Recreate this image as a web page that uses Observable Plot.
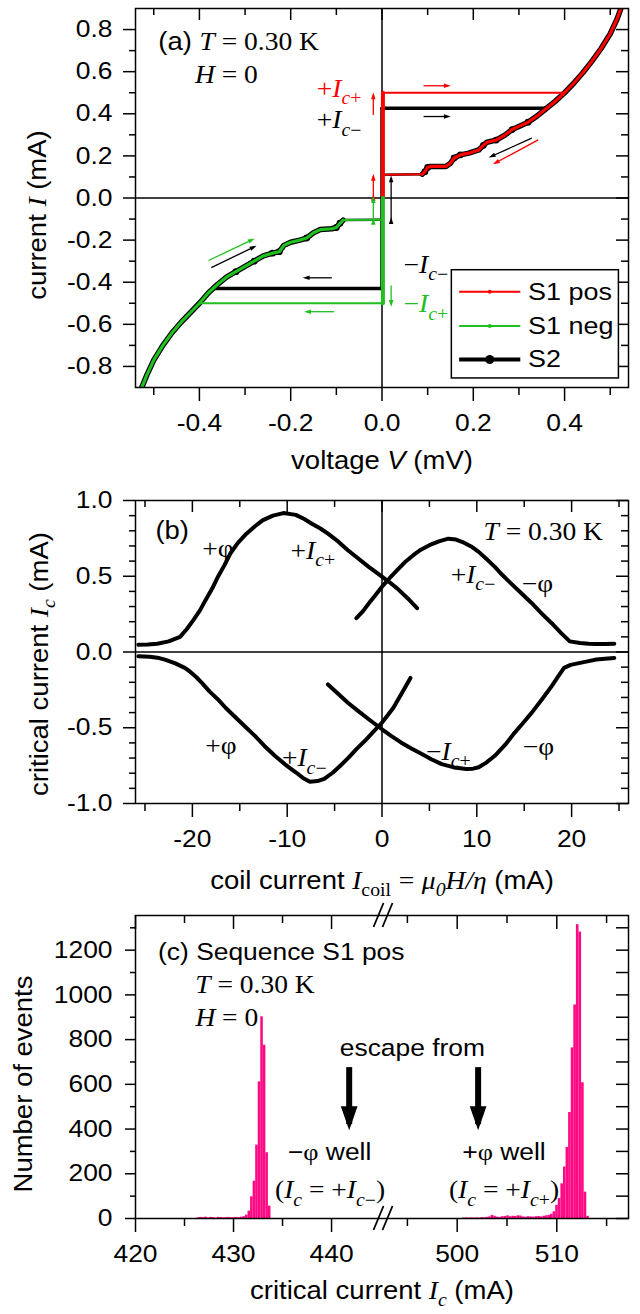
<!DOCTYPE html>
<html><head><meta charset="utf-8">
<script src="https://cdn.jsdelivr.net/npm/d3@7"></script>
<script src="https://cdn.jsdelivr.net/npm/@observablehq/plot@0.6"></script>
<style>
body{margin:0;background:#fff;}
#chart{width:640px;}
#chart svg{display:block;}
</style></head><body><div id="chart"></div>
<script>
const SANS = "'Liberation Sans', Arial, Helvetica, sans-serif";
const SERIF = "'Liberation Serif', 'Times New Roman', serif";
const RED = "#ff0000", GREEN = "#20c020", PINK = "#ff0a84", BLACK = "#000";

// ---------------- Panel (a) data: I-V curves ----------------
const posBranchV = [0.088, 0.094, 0.1, 0.106, 0.14, 0.15, 0.158, 0.172, 0.19, 0.212, 0.222, 0.23, 0.25, 0.27, 0.285, 0.3, 0.32, 0.34, 0.36, 0.38, 0.4, 0.42, 0.44, 0.46, 0.48, 0.5, 0.515, 0.53];
const posBranchI = [0.113, 0.125, 0.145, 0.15, 0.15, 0.165, 0.19, 0.205, 0.213, 0.228, 0.25, 0.265, 0.275, 0.3, 0.325, 0.34, 0.36, 0.39, 0.425, 0.46, 0.5, 0.545, 0.595, 0.65, 0.71, 0.78, 0.85, 0.94];
const negBranchV = [-0.085, -0.092, -0.1, -0.11, -0.135, -0.15, -0.165, -0.18, -0.2, -0.215, -0.225, -0.24, -0.26, -0.28, -0.3, -0.32, -0.34, -0.36, -0.38, -0.4, -0.42, -0.44, -0.46, -0.48, -0.5, -0.515, -0.53];
const negBranchI = [-0.105, -0.12, -0.14, -0.146, -0.15, -0.165, -0.19, -0.2, -0.21, -0.225, -0.255, -0.262, -0.275, -0.3, -0.325, -0.35, -0.375, -0.41, -0.45, -0.5, -0.545, -0.59, -0.64, -0.7, -0.77, -0.84, -0.92];
const s1SwitchI = [0.5, -0.5];      // +Ic+, -Ic+
const s1SwitchV = [0.4, -0.4];
const s2SwitchI = [0.426, -0.43];   // +Ic-, -Ic-
const s2SwitchV = [0.36, -0.37];
const retrapV = [0.004, -0.004];
const retrapI = [0.11, -0.103];
const zeroOffsetV = [0.002, 0.002];
const s2DotIdxPos = [1, 2, 6, 7, 10, 12, 14, 16];
const s2DotIdxNeg = [1, 2, 6, 10, 11, 13, 15];
const aXMajor = [-0.4, -0.2, 0, 0.2, 0.4], aXMinor = [-0.5, -0.3, -0.1, 0.1, 0.3, 0.5];
const aYMajor = [-0.8, -0.6, -0.4, -0.2, 0, 0.2, 0.4, 0.6, 0.8], aYMinor = [-0.7, -0.5, -0.3, -0.1, 0.1, 0.3, 0.5, 0.7];
const legendLabels = ["S1 pos", "S1 neg", "S2"];
const legendRowI = [-0.445, -0.608, -0.767];
const legendLineV = [0.169, 0.303], legendTextV = 0.32;
const legendBox = {x1: 0.153, x2: 0.519, y1: -0.343, y2: -0.857};
const aLabels = [
  {x: -0.49, y: 0.742, t: "{n:(a) }{i:T} = 0.30 K", anchor: "start", color: BLACK},
  {x: -0.41, y: 0.584, t: "{i:H} = 0", anchor: "start", color: BLACK},
  {x: -0.045, y: 0.52, t: "+{i:I}{ib:c}{b:+}", anchor: "end", color: RED},
  {x: -0.045, y: 0.37, t: "+{i:I}{ib:c}{b:−}", anchor: "end", color: BLACK},
  {x: 0.047, y: -0.316, t: "−{i:I}{ib:c}{b:−}", anchor: "start", color: BLACK},
  {x: 0.047, y: -0.505, t: "−{i:I}{ib:c}{b:+}", anchor: "start", color: GREEN}
];
const aArrows = [
  {x1: 0.091, y1: 0.533, x2: 0.145, y2: 0.533, c: RED},
  {x1: 0.091, y1: 0.387, x2: 0.145, y2: 0.387, c: BLACK},
  {x1: 0.328, y1: 0.284, x2: 0.239, y2: 0.197, c: BLACK},
  {x1: 0.342, y1: 0.276, x2: 0.248, y2: 0.166, c: RED},
  {x1: -0.019, y1: 0.394, x2: -0.019, y2: 0.489, c: RED},
  {x1: 0.02, y1: -0.415, x2: 0.02, y2: -0.505, c: GREEN},
  {x1: -0.11, y1: -0.379, x2: -0.168, y2: -0.379, c: BLACK},
  {x1: -0.105, y1: -0.54, x2: -0.165, y2: -0.54, c: GREEN},
  {x1: -0.38, y1: -0.297, x2: -0.284, y2: -0.198, c: GREEN},
  {x1: -0.374, y1: -0.331, x2: -0.28, y2: -0.232, c: BLACK}
];
const aDoubleArrows = [
  {x1: -0.019, y1: 0.008, x2: -0.019, y2: 0.103, c: RED},
  {x1: 0.02, y1: -0.103, x2: 0.02, y2: 0.095, c: BLACK},
  {x1: -0.019, y1: -0.106, x2: -0.019, y2: -0.003, c: GREEN}
];

// ---------------- Panel (b) data: critical current vs coil current ----------------
const upPlusX = [-25.7, -24.7, -23.7, -22.5, -21.3, -20.6, -19.9, -19.2, -18.6, -17.9, -17.3, -16.6, -16.0, -15.2, -14.3, -13.4, -12.6, -11.5, -10.4, -9.1, -8.2, -7.4, -6.5, -5.7, -4.6, -3.6, -2.5, -1.4, 0, 0.8, 1.6, 2.7, 3.7];
const upPlusY = [0.048, 0.05, 0.055, 0.07, 0.1, 0.15, 0.21, 0.275, 0.344, 0.42, 0.497, 0.575, 0.65, 0.72, 0.781, 0.83, 0.869, 0.9, 0.917, 0.905, 0.878, 0.847, 0.815, 0.781, 0.728, 0.672, 0.617, 0.562, 0.497, 0.46, 0.42, 0.355, 0.289];
const upMinusX = [-2.7, -2.0, -1.4, -0.7, 0, 0.8, 1.6, 2.4, 3.3, 4.1, 5.0, 6.0, 7.0, 7.8, 8.5, 9.4, 10.2, 11.0, 11.9, 12.7, 13.6, 14.7, 15.8, 16.8, 17.9, 18.9, 19.8, 20.9, 21.8, 22.6, 23.5, 24.5];
const upMinusY = [0.223, 0.27, 0.32, 0.375, 0.431, 0.487, 0.54, 0.592, 0.639, 0.675, 0.705, 0.73, 0.748, 0.742, 0.726, 0.697, 0.661, 0.615, 0.562, 0.508, 0.453, 0.388, 0.322, 0.257, 0.19, 0.125, 0.07, 0.059, 0.055, 0.053, 0.052, 0.055];
const loPlusX = [-25.7, -24.5, -23.5, -22.9, -21.8, -20.8, -20.3, -19.6, -19.0, -18.2, -17.3, -16.5, -15.6, -14.5, -13.4, -12.4, -11.3, -10.2, -9.1, -8.3, -7.6, -6.8, -6.1, -5.2, -4.4, -3.5, -2.7, -1.8, -1.0, 0, 0.6, 1.2, 2.1, 3.0];
const loPlusY = [-0.028, -0.032, -0.04, -0.05, -0.075, -0.105, -0.127, -0.165, -0.204, -0.26, -0.313, -0.368, -0.422, -0.488, -0.554, -0.62, -0.685, -0.743, -0.794, -0.833, -0.856, -0.852, -0.838, -0.797, -0.751, -0.696, -0.641, -0.586, -0.532, -0.466, -0.418, -0.368, -0.27, -0.171];
const loMinusX = [-5.7, -4.6, -3.6, -2.5, -1.4, 0, 1.0, 2.0, 3.1, 4.2, 5.2, 6.3, 7.6, 8.9, 9.6, 10.2, 11.0, 11.9, 13.0, 14.0, 14.9, 15.8, 16.9, 17.9, 18.6, 19.2, 19.9, 20.9, 21.8, 22.6, 23.5, 24.5];
const loMinusY = [-0.214, -0.277, -0.335, -0.39, -0.444, -0.51, -0.555, -0.597, -0.637, -0.674, -0.708, -0.74, -0.762, -0.772, -0.77, -0.761, -0.73, -0.685, -0.612, -0.532, -0.467, -0.4, -0.31, -0.225, -0.16, -0.105, -0.085, -0.072, -0.06, -0.05, -0.044, -0.039];
const bXMajor = [-20, -10, 0, 10, 20], bXMinor = [-25, -15, -5, 5, 15, 25];
const bYMajor = [-1, -0.5, 0, 0.5, 1], bYMinor = [-0.9, -0.8, -0.7, -0.6, -0.4, -0.3, -0.2, -0.1, 0.1, 0.2, 0.3, 0.4, 0.6, 0.7, 0.8, 0.9];
const bLabels = [
  {x: -23.9, y: 0.8, t: "{n:(b)}", anchor: "start", color: BLACK},
  {x: 23.3, y: 0.79, t: "{i:T} = 0.30 K", anchor: "end", color: BLACK},
  {x: -17.3, y: 0.68, t: "+φ", anchor: "middle", color: BLACK},
  {x: -7.3, y: 0.67, t: "+{i:I}{ib:c}{b:+}", anchor: "middle", color: BLACK},
  {x: 9.6, y: 0.51, t: "+{i:I}{ib:c}{b:−}", anchor: "middle", color: BLACK},
  {x: 16.4, y: 0.45, t: "−φ", anchor: "middle", color: BLACK},
  {x: -17.0, y: -0.62, t: "+φ", anchor: "middle", color: BLACK},
  {x: -8.2, y: -0.7, t: "+{i:I}{ib:c}{b:−}", anchor: "middle", color: BLACK},
  {x: 7.0, y: -0.66, t: "−{i:I}{ib:c}{b:+}", anchor: "middle", color: BLACK},
  {x: 16.5, y: -0.63, t: "−φ", anchor: "middle", color: BLACK}
];

// ---------------- Panel (c) data: histogram ----------------
const leftBinX = [426.41, 426.67, 426.93, 427.19, 427.45, 427.71, 427.97, 428.23, 428.49, 428.75, 429.01, 429.27, 429.53, 429.79, 430.05, 430.31, 430.57, 430.83, 431.09, 431.35, 431.61, 431.87, 432.13, 432.39, 432.65, 432.91, 433.17, 433.43, 433.69];
const leftBinN = [3, 5, 4, 6, 3, 5, 4, 2, 5, 4, 3, 4, 5, 3, 4, 5, 4, 6, 8, 15, 33, 97, 167, 328, 611, 902, 775, 294, 55];
const rightBinX = [500.68, 500.94, 501.2, 501.46, 501.72, 501.98, 502.24, 502.5, 502.76, 503.02, 503.28, 503.54, 503.8, 504.06, 504.32, 504.58, 504.84, 505.1, 505.36, 505.62, 505.88, 506.14, 506.4, 506.66, 506.92, 507.18, 507.44, 507.7, 507.96, 508.22, 508.48, 508.74, 509.0, 509.26, 509.5, 509.76, 510.02, 510.28, 510.54, 510.8, 511.06, 511.32, 511.58, 511.84, 512.1, 512.36, 512.62, 512.88, 513.14];
const rightBinN = [2, 3, 2, 3, 2, 3, 2, 4, 3, 5, 7, 14, 10, 6, 5, 8, 9, 12, 8, 10, 9, 12, 11, 7, 6, 8, 7, 6, 8, 9, 7, 10, 12, 14, 19, 30, 59, 89, 155, 230, 318, 474, 763, 955, 1314, 1281, 607, 118, 10];
const binWidth = 0.26;
const cXDomain = [420, 445.3, 492.6, 517.2];   // broken axis
const cXMajor = [420, 430, 440, 500, 510], cXMinor = [425, 435, 495, 505, 515];
const cYMajor = [0, 200, 400, 600, 800, 1000, 1200], cYMinor = [100, 300, 500, 700, 900, 1100, 1300];
const cLabels = [
  {x: 422.3, y: 1192, t: "(c) Sequence S1 pos", anchor: "start", color: BLACK, font: "sans"},
  {x: 426.1, y: 1043, t: "{i:T} = 0.30 K", anchor: "start", color: BLACK, font: "serif"},
  {x: 426.1, y: 896, t: "{i:H} = 0", anchor: "start", color: BLACK, font: "serif"},
  {x: 495.5, y: 762, t: "escape from", anchor: "middle", color: BLACK, font: "sans"},
  {x: 439.8, y: 297, t: "−{s:φ} well", anchor: "middle", color: BLACK, font: "sans"},
  {x: 504.7, y: 297, t: "+{s:φ} well", anchor: "middle", color: BLACK, font: "sans"},
  {x: 439.85, y: 127, t: "({i:I}{ib:c} = +{i:I}{ib:c}{b:−})", anchor: "middle", color: BLACK, font: "serif"},
  {x: 504.7, y: 127, t: "({i:I}{ib:c} = +{i:I}{ib:c}{b:+})", anchor: "middle", color: BLACK, font: "serif"}
];
const cArrows = [{x: 441.8, y1: 677, y2: 422}, {x: 502.1, y1: 677, y2: 422}];

// ---------------- helpers ----------------
const A = {w: 640, h: 480, mt: 8, mb: 93, ml: 135, mr: 12};
const B = {w: 640, h: 420, mt: 20, mb: 97, ml: 135, mr: 12};
const C = {w: 640, h: 414, mt: 15, mb: 96, ml: 135, mr: 12};
const TICK_FS = 24, TITLE_FS = 25, NOTE_FS = 25, STRETCH = 1.1;

function seg(id, vs, is) { return vs.map((v, k) => ({id, V: v, I: is[k]})); }

function frameTicks(L, xMaj, xMin, yMaj, yMin, len) {
  const iw = L.w - L.ml - L.mr, ih = L.h - L.mt - L.mb;
  const o = {stroke: BLACK, strokeWidth: 1.5};
  return [
    Plot.tickY(yMaj, {...o, insetLeft: -len[0], insetRight: iw}),
    Plot.tickY(yMin, {...o, insetLeft: -len[1], insetRight: iw}),
    Plot.tickY(yMaj, {...o, insetLeft: iw - len[2], insetRight: 0}),
    Plot.tickY(yMin, {...o, insetLeft: iw - len[3], insetRight: 0}),
    Plot.tickX(xMaj, {...o, insetTop: ih, insetBottom: -len[4]}),
    Plot.tickX(xMin, {...o, insetTop: ih, insetBottom: -len[5]}),
    Plot.tickX(xMaj, {...o, insetTop: 0, insetBottom: ih - len[6]}),
    Plot.tickX(xMin, {...o, insetTop: 0, insetBottom: ih - len[7]})
  ];
}

function textMarks(labels, fontSize, defFont) {
  return d3.groups(labels, d => `${d.anchor}|${d.color}|${d.font || defFont}`).map(([k, arr]) =>
    Plot.text(arr, {x: "x", y: "y", text: "t", textAnchor: arr[0].anchor, lineAnchor: "middle", fill: arr[0].color,
      fontFamily: (arr[0].font || defFont) === "serif" ? SERIF : SANS, fontSize}));
}

function axisTitles(xTitle, yTitle, xdy, ydx, ydy) {
  return [
    Plot.text([0], {frameAnchor: "bottom", text: () => xTitle, dy: xdy, textAnchor: "middle", lineAnchor: "middle", fontSize: TITLE_FS, fontFamily: SANS}),
    Plot.text([0], {frameAnchor: "left", text: () => yTitle, rotate: -90, dx: ydx, dy: ydy, textAnchor: "middle", lineAnchor: "middle", fontSize: TITLE_FS, fontFamily: SANS})
  ];
}

function richText(svg) {
  svg.querySelectorAll("text, tspan").forEach(el => {
    if (el.childNodes.length !== 1 || el.firstChild.nodeType !== 3) return;
    const s = el.textContent;
    if (!s.includes("{")) return;
    const fs = parseFloat(getComputedStyle(el).fontSize) || 25;
    const re = /\{([a-z]*):([^}]*)\}/g;
    const parts = [];
    let last = 0, m;
    while ((m = re.exec(s))) {
      if (m.index > last) parts.push({f: "", t: s.slice(last, m.index)});
      parts.push({f: m[1], t: m[2]});
      last = re.lastIndex;
    }
    if (last < s.length) parts.push({f: "", t: s.slice(last)});
    el.textContent = "";
    const sh = 0.3 * fs;
    let shifted = false;
    for (const p of parts) {
      const ts = document.createElementNS("http://www.w3.org/2000/svg", "tspan");
      if (p.f.includes("i")) ts.setAttribute("font-style", "italic");
      if (p.f.includes("s")) ts.setAttribute("font-family", SERIF);
      if (p.f.includes("n")) ts.setAttribute("font-family", SANS);
      if (p.f.includes("b")) {
        ts.setAttribute("font-size", (0.72 * fs).toFixed(1) + "px");
        if (!shifted) { ts.setAttribute("dy", sh.toFixed(1)); shifted = true; }
      } else if (shifted) { ts.setAttribute("dy", (-sh).toFixed(1)); shifted = false; }
      ts.textContent = p.t;
      el.appendChild(ts);
    }
  });
}

// widen glyphs horizontally around their anchor (the reference figure is stretched sideways)
function stretchText(svg, s) {
  svg.querySelectorAll("text").forEach(el => {
    const b = el.getBBox();
    const ta = getComputedStyle(el).textAnchor;
    const ax = ta === "middle" ? b.x + b.width / 2 : ta === "end" ? b.x + b.width : b.x;
    const t = el.getAttribute("transform") || "";
    el.setAttribute("transform", `${t} translate(${ax},0) scale(${s},1) translate(${-ax},0)`);
  });
}

function styleMarkers(svg, d) {
  d3.select(svg).selectAll("marker").each(function () {
    const mk = d3.select(this);
    const c = mk.attr("stroke");
    mk.attr("fill", c).attr("stroke", "none").attr("overflow", "visible");
    mk.selectAll("path").attr("d", d);
  });
}

function finish(svg) {
  chart.appendChild(svg);
  richText(svg);
  stretchText(svg, STRETCH);
}

const fmt1 = d => d.toFixed(1);
const chart = document.getElementById("chart");

// ---------------- Panel (a) ----------------
{
  const blackThick = [
    ...seg("bp", posBranchV, posBranchI),
    ...seg("bn", negBranchV, negBranchI)
  ];
  const blackJump = [
    ...seg("v", [0, 0], [s2SwitchI[1], s2SwitchI[0]]),
    ...seg("jp", [0, s2SwitchV[0]], [s2SwitchI[0], s2SwitchI[0]]),
    ...seg("jn", [0, s2SwitchV[1]], [s2SwitchI[1], s2SwitchI[1]])
  ];
  const blackThin = [
    ...seg("rp", [retrapV[0], posBranchV[0]], [retrapI[0], posBranchI[0]]),
    ...seg("rn", [retrapV[1], negBranchV[0]], [retrapI[1], negBranchI[0]])
  ];
  const s2Dots = [...s2DotIdxPos.map(k => ({V: posBranchV[k], I: posBranchI[k]})), ...s2DotIdxNeg.map(k => ({V: negBranchV[k], I: negBranchI[k]}))];
  const redVert = seg("v", [zeroOffsetV[0], zeroOffsetV[0]], [0, s1SwitchI[0]]);
  const redThin = [
    ...seg("j", [zeroOffsetV[0], s1SwitchV[0]], [s1SwitchI[0], s1SwitchI[0]]),
    ...seg("r", [retrapV[0], posBranchV[0]], [retrapI[0], posBranchI[0]])
  ];
  const redBranch = seg("b", posBranchV, posBranchI);
  const greenVert = seg("v", [zeroOffsetV[1], zeroOffsetV[1]], [0, s1SwitchI[1]]);
  const greenThin = [
    ...seg("j", [zeroOffsetV[1], s1SwitchV[1]], [s1SwitchI[1], s1SwitchI[1]]),
    ...seg("r", [retrapV[1], negBranchV[0]], [retrapI[1], negBranchI[0]])
  ];
  const greenBranch = seg("b", negBranchV, negBranchI);
  const legRows = legendLabels.map((s, k) => ({s, I: legendRowI[k], x1: legendLineV[0], x2: legendLineV[1], xm: (legendLineV[0] + legendLineV[1]) / 2, xt: legendTextV}));
  const L = {x: "V", y: "I", z: "id", clip: true, strokeLinejoin: "round"};

  const svg = Plot.plot({
    width: A.w, height: A.h, marginTop: A.mt, marginBottom: A.mb, marginLeft: A.ml, marginRight: A.mr,
    x: {domain: [-0.54, 0.54]}, y: {domain: [-0.9, 0.9]},
    style: {fontFamily: SANS, fontSize: "24px", color: BLACK, background: "#fff"},
    marks: [
      Plot.ruleX([0], {stroke: BLACK, strokeWidth: 1.5}),
      Plot.ruleY([0], {stroke: BLACK, strokeWidth: 1.5}),
      ...frameTicks(A, aXMajor, aXMinor, aYMajor, aYMinor, [12, 6, 12, 7, 14, 8, 12, 7]),
      Plot.line(blackThin, {...L, stroke: BLACK, strokeWidth: 2.5}),
      Plot.line(blackJump, {...L, stroke: BLACK, strokeWidth: 3.5}),
      Plot.line(blackThick, {...L, stroke: BLACK, strokeWidth: 5.5}),
      Plot.dot(s2Dots, {x: "V", y: "I", r: 3.4, fill: BLACK}),
      Plot.line(redThin, {...L, stroke: RED, strokeWidth: 2}),
      Plot.line(greenThin, {...L, stroke: GREEN, strokeWidth: 2}),
      Plot.line(redBranch, {...L, stroke: RED, strokeWidth: 3.2}),
      Plot.line(greenBranch, {...L, stroke: GREEN, strokeWidth: 3.2}),
      Plot.line(redVert, {...L, stroke: RED, strokeWidth: 4}),
      Plot.line(greenVert, {...L, stroke: GREEN, strokeWidth: 4}),
      ...d3.groups(aArrows, d => d.c).map(([c, arr]) => Plot.link(arr, {x1: "x1", y1: "y1", x2: "x2", y2: "y2", stroke: c, strokeWidth: 1.3, markerEnd: "arrow"})),
      ...d3.groups(aDoubleArrows, d => d.c).map(([c, arr]) => Plot.link(arr, {x1: "x1", y1: "y1", x2: "x2", y2: "y2", stroke: c, strokeWidth: 1.3, markerStart: "arrow", markerEnd: "arrow"})),
      Plot.rect([legendBox], {x1: "x1", x2: "x2", y1: "y1", y2: "y2", fill: "#fff", stroke: BLACK, strokeWidth: 1.5}),
      Plot.link(legRows.slice(0, 1), {x1: "x1", x2: "x2", y1: "I", y2: "I", stroke: RED, strokeWidth: 2}),
      Plot.link(legRows.slice(1, 2), {x1: "x1", x2: "x2", y1: "I", y2: "I", stroke: GREEN, strokeWidth: 2}),
      Plot.link(legRows.slice(2, 3), {x1: "x1", x2: "x2", y1: "I", y2: "I", stroke: BLACK, strokeWidth: 4}),
      Plot.dot(legRows.slice(0, 1), {x: "xm", y: "I", r: 2, fill: RED}),
      Plot.dot(legRows.slice(1, 2), {x: "xm", y: "I", r: 2, fill: GREEN}),
      Plot.dot(legRows.slice(2, 3), {x: "xm", y: "I", r: 4.5, fill: BLACK}),
      Plot.text(legRows, {x: "xt", y: "I", text: "s", textAnchor: "start", lineAnchor: "middle", fontSize: 24.5, fontFamily: SANS}),
      ...textMarks(aLabels, NOTE_FS, "serif"),
      Plot.frame({stroke: BLACK, strokeWidth: 1.5}),
      Plot.axisX(aXMajor, {anchor: "bottom", tickSize: 0, tickPadding: 26, tickFormat: fmt1, label: null, fontSize: TICK_FS}),
      Plot.axisY(aYMajor, {anchor: "left", tickSize: 0, tickPadding: 23, tickFormat: fmt1, label: null, fontSize: TICK_FS}),
      ...axisTitles("voltage {i:V} (mV)", "current {si:I} (mA)", 73, -98, 17)
    ]
  });
  finish(svg);
  styleMarkers(svg, "M-5,-2.6L3,0L-5,2.6Z");
}

// ---------------- Panel (b) ----------------
{
  const curves = [
    ...seg("up+", upPlusX, upPlusY), ...seg("up-", upMinusX, upMinusY),
    ...seg("lo+", loPlusX, loPlusY), ...seg("lo-", loMinusX, loMinusY)
  ];
  const svg = Plot.plot({
    width: B.w, height: B.h, marginTop: B.mt, marginBottom: B.mb, marginLeft: B.ml, marginRight: B.mr,
    x: {domain: [-26, 26]}, y: {domain: [-1, 1]},
    style: {fontFamily: SANS, fontSize: "24px", color: BLACK, background: "#fff"},
    marks: [
      Plot.ruleX([0], {stroke: BLACK, strokeWidth: 1.5}),
      Plot.ruleY([0], {stroke: BLACK, strokeWidth: 1.5}),
      ...frameTicks(B, bXMajor, bXMinor, bYMajor, bYMinor, [12, 6, 12, 7, 14, 8, 12, 7]),
      Plot.line(curves, {x: "V", y: "I", z: "id", stroke: BLACK, strokeWidth: 4, clip: true, strokeLinejoin: "round"}),
      ...textMarks(bLabels, NOTE_FS, "serif"),
      Plot.frame({stroke: BLACK, strokeWidth: 1.5}),
      Plot.axisX(bXMajor, {anchor: "bottom", tickSize: 0, tickPadding: 26, tickFormat: d => String(d), label: null, fontSize: TICK_FS}),
      Plot.axisY(bYMajor, {anchor: "left", tickSize: 0, tickPadding: 23, tickFormat: fmt1, label: null, fontSize: TICK_FS}),
      ...axisTitles("coil current {si:I}{sb:coil} {s:=} {si:μ}{sib:0}{si:H/η} (mA)", "critical current {si:I}{sib:c} (mA)", 77, -96, 12)
    ]
  });
  finish(svg);
}

// ---------------- Panel (c) ----------------
{
  const bars = [
    ...leftBinX.map((x, k) => ({x1: x - binWidth / 2, x2: x + binWidth / 2, n: leftBinN[k]})),
    ...rightBinX.map((x, k) => ({x1: x - binWidth / 2, x2: x + binWidth / 2, n: rightBinN[k]}))
  ];
  const svg = Plot.plot({
    width: C.w, height: C.h, marginTop: C.mt, marginBottom: C.mb, marginLeft: C.ml, marginRight: C.mr,
    x: {type: "linear", domain: cXDomain, range: [C.ml, 383, 383, C.w - C.mr]},
    y: {domain: [0, 1355]},
    style: {fontFamily: SANS, fontSize: "24px", color: BLACK, background: "#fff"},
    marks: [
      Plot.rect(bars, {x1: "x1", x2: "x2", y1: () => 0, y2: "n", fill: PINK}),
      ...frameTicks(C, cXMajor, cXMinor, cYMajor, cYMinor, [10, 5, 12, 12, 14, 8, 14, 8]),
      Plot.link(cArrows, {x1: "x", x2: "x", y1: "y1", y2: "y2", stroke: BLACK, strokeWidth: 6, markerEnd: "arrow"}),
      ...textMarks(cLabels.filter(d => d.font === "sans"), 24, "sans"),
      ...textMarks(cLabels.filter(d => d.font === "serif"), NOTE_FS, "serif"),
      Plot.frame({stroke: BLACK, strokeWidth: 1.5}),
      Plot.axisX(cXMajor, {anchor: "bottom", tickSize: 0, tickPadding: 26, tickFormat: d => String(d), label: null, fontSize: TICK_FS}),
      Plot.axisY(cYMajor, {anchor: "left", tickSize: 0, tickPadding: 23, tickFormat: d => String(d), label: null, fontSize: TICK_FS}),
      ...axisTitles("critical current {si:I}{sib:c} (mA)", "Number of events", 72, -112, 17)
    ]
  });
  finish(svg);
  styleMarkers(svg, "M-4.5,-2.1L1.5,0L-4.5,2.1Z");
  // axis-break marks
  const bx = svg.scale("x").apply(cXDomain[1]);
  const g = d3.select(svg).append("g").attr("stroke", BLACK).attr("stroke-width", 1.8);
  for (const yc of [C.mt, C.h - C.mb]) for (const off of [-4.5, 4.5]) {
    g.append("line").attr("x1", bx + off - 5).attr("y1", yc + 12).attr("x2", bx + off + 5).attr("y2", yc - 12);
  }
}
</script></body></html>
